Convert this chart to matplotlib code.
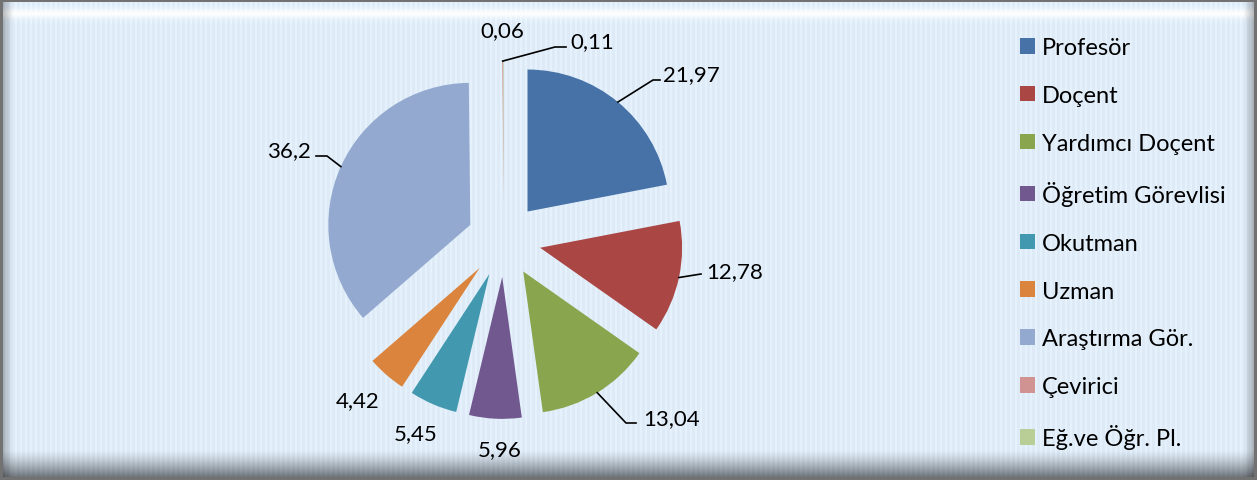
import math

import numpy as np
import matplotlib
matplotlib.use("Agg")
import matplotlib.pyplot as plt

plt.rcParams["font.family"] = ["Lato", "DejaVu Sans"]

categories = ["Profesör", "Doçent", "Yardımcı Doçent", "Öğretim Görevlisi",
              "Okutman", "Uzman", "Araştırma Gör.", "Çevirici", "Eğ.ve Öğr. Pl."]
values = [21.97, 12.78, 13.04, 5.96, 5.45, 4.42, 36.2, 0.11, 0.06]
value_labels = ["21,97", "12,78", "13,04", "5,96", "5,45", "4,42", "36,2", "0,11", "0,06"]
colors = ["#4672a8", "#aa4643", "#89a54e", "#71588f", "#4198af",
          "#db843d", "#93a9cf", "#d19392", "#b9cd96"]

W, H = 1257, 481
CX, CY, R = 504, 241, 142       # pie centre / radius in screen pixels
EXPLODE = 0.26


def to_data(x, y):
    """screen pixel (y down) -> pie axes data coords (radius = 1)."""
    return (x - CX) / R, ((H - y) - (H - CY)) / R


# label layout in screen pixels: (x, baseline y, ha), leader points after the wedge
label_layout = [(663, 81, "left"), (706, 278, "left"), (643, 425, "left"),
                (500, 456, "center"), (416, 440, "center"), (358, 407, "center"),
                (311, 157, "right"), (570, 48, "left"), (502, 37, "center")]
leaders = [[(653, 81), (660, 81)], [(701, 275)], [(626, 424), (636, 424)],
           None, None, None, [(327, 157), (316, 157)], [(555, 48), (566, 48)], None]


def background():
    yy, xx = np.mgrid[0:H, 0:W]
    img = np.ones((H, W, 3)) * np.array([222, 235, 247]) / 255.0
    stripe = np.where((xx % 5) < 2, 0.03, 0.0)
    img = np.clip(img + stripe[..., None], 0, 1)
    top = np.exp(-((yy - 14) / 5.0) ** 2)
    img = img + (1 - img) * (0.9 * top)[..., None]
    bot = np.clip((yy - 450) / 27.0, 0, 1) ** 1.3
    img = img * (1 - 0.5 * bot)[..., None]
    side = np.maximum(np.clip(1 - (xx - 3) / 10.0, 0, 1),
                      np.clip(1 - (W - 4 - xx) / 10.0, 0, 1))
    img = img * (1 - 0.25 * side)[..., None]
    img[:3, :] = 0.45
    img[-3:, :] = 0.45
    img[:, :3] = 0.45
    img[:, -3:] = 0.45
    return img


def main():
    fig = plt.figure(figsize=(W / 100, H / 100), dpi=100)
    bg = fig.add_axes([0, 0, 1, 1])
    bg.imshow(background(), aspect="auto", interpolation="nearest")
    bg.axis("off")

    ax = fig.add_axes([0, 0, 1, 1])
    wedges, _ = ax.pie(values, colors=colors, startangle=90, counterclock=False,
                       explode=[EXPLODE] * len(values),
                       wedgeprops=dict(linewidth=0))
    x0, y1 = to_data(0, 0)
    x1, y0 = to_data(W, H)
    ax.set_xlim(x0, x1)
    ax.set_ylim(y0, y1)
    ax.set_aspect("auto")
    ax.axis("off")

    for w, lab, (tx, ty, ha), lead in zip(wedges, value_labels, label_layout, leaders):
        ax.text(*to_data(tx, ty), lab, ha=ha, va="baseline", fontsize=16, color="black")
        if lead is None:
            continue
        th = math.radians((w.theta1 + w.theta2) / 2)
        ax0 = (w.center[0] + w.r * math.cos(th), w.center[1] + w.r * math.sin(th))
        pts = [ax0] + [to_data(px, py) for px, py in lead]
        ax.plot([p[0] for p in pts], [p[1] for p in pts], color="black", lw=1.2)

    ax.legend(wedges, categories, loc="upper left",
              bbox_to_anchor=(1020 / W, 1 - 38 / H), bbox_transform=fig.transFigure,
              frameon=False, fontsize=17, handlelength=0.64, handleheight=0.64,
              handletextpad=0.3, labelspacing=1.14, borderpad=0, borderaxespad=0)

    fig.savefig("out.png", dpi=100)
    plt.close(fig)


if __name__ == "__main__":
    main()
